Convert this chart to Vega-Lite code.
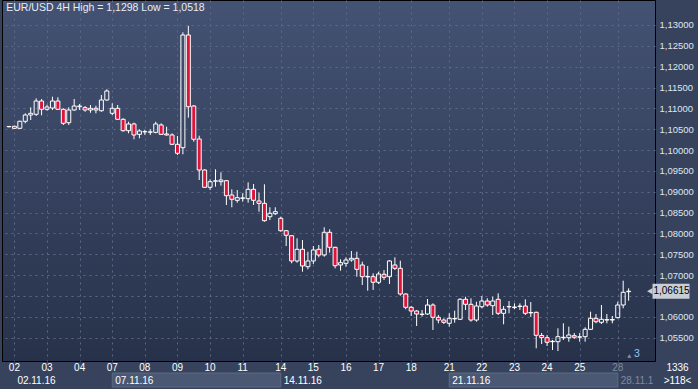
{
  "$schema": "https://vega.github.io/schema/vega-lite/v6.json",
  "width": 653,
  "height": 361,
  "autosize": "none",
  "padding": {"left": 2, "top": 0, "right": 43, "bottom": 28},
  "background": "#37435d",
  "config": {
    "view": {
      "fill": {"gradient": "linear", "x1": 0, "y1": 0, "x2": 0, "y2": 1, "stops": [{"offset": 0, "color": "#445273"}, {"offset": 1, "color": "#27324a"}]},
      "stroke": "#000000",
      "strokeWidth": 1
    },
    "text": {"font": "Liberation Sans"},
    "axis": {"labelFont": "Liberation Sans", "labelOverlap": false}
  },
  "datasets": {
    "candles": [
      {"i":0,"o":1.10561,"h":1.10578,"l":1.10542,"c":1.10566},
      {"i":1,"o":1.10570,"h":1.10585,"l":1.10506,"c":1.10522},
      {"i":2,"o":1.10522,"h":1.10705,"l":1.10506,"c":1.10690},
      {"i":3,"o":1.10690,"h":1.10882,"l":1.10642,"c":1.10841},
      {"i":4,"o":1.10841,"h":1.11026,"l":1.10721,"c":1.10882},
      {"i":5,"o":1.10858,"h":1.11242,"l":1.10817,"c":1.11177},
      {"i":6,"o":1.11177,"h":1.11225,"l":1.10834,"c":1.10978},
      {"i":7,"o":1.10978,"h":1.11088,"l":1.10944,"c":1.11033},
      {"i":8,"o":1.11009,"h":1.11280,"l":1.10961,"c":1.11177},
      {"i":9,"o":1.11177,"h":1.11266,"l":1.10961,"c":1.10978},
      {"i":10,"o":1.10978,"h":1.11002,"l":1.10602,"c":1.10642},
      {"i":11,"o":1.10657,"h":1.11026,"l":1.10602,"c":1.10961},
      {"i":12,"o":1.10961,"h":1.11225,"l":1.10944,"c":1.11057},
      {"i":13,"o":1.11040,"h":1.11105,"l":1.10961,"c":1.11057},
      {"i":14,"o":1.11016,"h":1.11057,"l":1.10920,"c":1.10961},
      {"i":15,"o":1.10961,"h":1.11081,"l":1.10896,"c":1.11002},
      {"i":16,"o":1.11002,"h":1.11064,"l":1.10882,"c":1.10961},
      {"i":17,"o":1.10944,"h":1.11321,"l":1.10920,"c":1.11201},
      {"i":18,"o":1.11201,"h":1.11458,"l":1.11184,"c":1.11417},
      {"i":19,"o":1.10882,"h":1.11122,"l":1.10841,"c":1.11002},
      {"i":20,"o":1.11002,"h":1.11081,"l":1.10721,"c":1.10738},
      {"i":21,"o":1.10738,"h":1.10762,"l":1.10441,"c":1.10465},
      {"i":22,"o":1.10465,"h":1.10681,"l":1.10402,"c":1.10626},
      {"i":23,"o":1.10626,"h":1.10657,"l":1.10259,"c":1.10362},
      {"i":24,"o":1.10378,"h":1.10498,"l":1.10283,"c":1.10458},
      {"i":25,"o":1.10438,"h":1.10482,"l":1.10362,"c":1.10443},
      {"i":26,"o":1.10429,"h":1.10498,"l":1.10362,"c":1.10436},
      {"i":27,"o":1.10426,"h":1.10681,"l":1.10402,"c":1.10626},
      {"i":28,"o":1.10602,"h":1.10642,"l":1.10362,"c":1.10378},
      {"i":29,"o":1.10386,"h":1.10561,"l":1.10350,"c":1.10362},
      {"i":30,"o":1.10362,"h":1.10402,"l":1.10122,"c":1.10139},
      {"i":31,"o":1.10139,"h":1.10338,"l":1.09882,"c":1.09923},
      {"i":32,"o":1.10057,"h":1.12825,"l":1.09899,"c":1.12760},
      {"i":33,"o":1.12760,"h":1.12980,"l":1.10777,"c":1.11040},
      {"i":34,"o":1.11057,"h":1.11081,"l":1.10201,"c":1.10259},
      {"i":35,"o":1.10266,"h":1.10345,"l":1.09282,"c":1.09522},
      {"i":36,"o":1.09522,"h":1.09540,"l":1.09090,"c":1.09107},
      {"i":37,"o":1.09107,"h":1.09299,"l":1.09042,"c":1.09242},
      {"i":38,"o":1.09254,"h":1.09539,"l":1.09122,"c":1.09261},
      {"i":39,"o":1.09242,"h":1.09467,"l":1.09146,"c":1.09282},
      {"i":40,"o":1.09266,"h":1.09282,"l":1.08683,"c":1.08906},
      {"i":41,"o":1.08923,"h":1.09059,"l":1.08628,"c":1.08819},
      {"i":42,"o":1.08795,"h":1.09042,"l":1.08738,"c":1.08858},
      {"i":43,"o":1.08843,"h":1.08963,"l":1.08762,"c":1.08853},
      {"i":44,"o":1.08834,"h":1.09227,"l":1.08738,"c":1.09059},
      {"i":45,"o":1.09059,"h":1.09186,"l":1.08683,"c":1.08795},
      {"i":46,"o":1.08779,"h":1.08978,"l":1.08522,"c":1.08723},
      {"i":47,"o":1.08723,"h":1.09179,"l":1.08282,"c":1.08306},
      {"i":48,"o":1.08402,"h":1.08628,"l":1.08323,"c":1.08484},
      {"i":49,"o":1.08474,"h":1.08628,"l":1.08443,"c":1.08522},
      {"i":50,"o":1.08364,"h":1.08402,"l":1.08042,"c":1.08066},
      {"i":51,"o":1.08066,"h":1.08083,"l":1.07699,"c":1.07956},
      {"i":52,"o":1.07946,"h":1.07963,"l":1.07284,"c":1.07340},
      {"i":53,"o":1.07340,"h":1.07884,"l":1.07299,"c":1.07620},
      {"i":54,"o":1.07620,"h":1.07843,"l":1.07083,"c":1.07220},
      {"i":55,"o":1.07203,"h":1.07563,"l":1.07140,"c":1.07340},
      {"i":56,"o":1.07340,"h":1.07699,"l":1.07268,"c":1.07603},
      {"i":57,"o":1.07620,"h":1.07723,"l":1.07428,"c":1.07483},
      {"i":58,"o":1.07483,"h":1.08148,"l":1.07443,"c":1.08028},
      {"i":59,"o":1.08028,"h":1.08100,"l":1.07539,"c":1.07668},
      {"i":60,"o":1.07668,"h":1.07680,"l":1.07164,"c":1.07227},
      {"i":61,"o":1.07244,"h":1.07380,"l":1.07107,"c":1.07299},
      {"i":62,"o":1.07284,"h":1.07428,"l":1.07203,"c":1.07364},
      {"i":63,"o":1.07364,"h":1.07579,"l":1.07323,"c":1.07404},
      {"i":64,"o":1.07404,"h":1.07563,"l":1.06963,"c":1.07140},
      {"i":65,"o":1.07244,"h":1.07323,"l":1.06764,"c":1.06963},
      {"i":66,"o":1.06958,"h":1.07220,"l":1.06627,"c":1.06968},
      {"i":67,"o":1.06963,"h":1.07045,"l":1.06644,"c":1.06829},
      {"i":68,"o":1.06829,"h":1.07083,"l":1.06788,"c":1.07028},
      {"i":69,"o":1.07021,"h":1.07124,"l":1.06884,"c":1.06949},
      {"i":70,"o":1.06963,"h":1.07364,"l":1.06788,"c":1.07340},
      {"i":71,"o":1.07244,"h":1.07428,"l":1.07124,"c":1.07164},
      {"i":72,"o":1.07164,"h":1.07347,"l":1.06507,"c":1.06548},
      {"i":73,"o":1.06548,"h":1.06565,"l":1.06181,"c":1.06229},
      {"i":74,"o":1.06229,"h":1.06260,"l":1.06020,"c":1.06140},
      {"i":75,"o":1.06140,"h":1.06164,"l":1.05780,"c":1.06068},
      {"i":76,"o":1.06056,"h":1.06164,"l":1.06004,"c":1.06066},
      {"i":77,"o":1.06068,"h":1.06428,"l":1.06044,"c":1.06284},
      {"i":78,"o":1.06284,"h":1.06325,"l":1.05685,"c":1.05989},
      {"i":79,"o":1.05989,"h":1.06044,"l":1.05845,"c":1.05924},
      {"i":80,"o":1.05924,"h":1.05965,"l":1.05829,"c":1.05869},
      {"i":81,"o":1.05845,"h":1.06085,"l":1.05764,"c":1.05965},
      {"i":82,"o":1.05951,"h":1.06148,"l":1.05860,"c":1.05960},
      {"i":83,"o":1.05941,"h":1.06445,"l":1.05924,"c":1.06421},
      {"i":84,"o":1.06421,"h":1.06483,"l":1.06164,"c":1.06301},
      {"i":85,"o":1.06301,"h":1.06445,"l":1.05884,"c":1.05924},
      {"i":86,"o":1.05924,"h":1.06363,"l":1.05884,"c":1.06260},
      {"i":87,"o":1.06243,"h":1.06500,"l":1.06205,"c":1.06380},
      {"i":88,"o":1.06380,"h":1.06445,"l":1.06243,"c":1.06284},
      {"i":89,"o":1.06267,"h":1.06483,"l":1.06044,"c":1.06380},
      {"i":90,"o":1.06421,"h":1.06565,"l":1.06044,"c":1.06085},
      {"i":91,"o":1.06085,"h":1.06260,"l":1.05821,"c":1.06181},
      {"i":92,"o":1.06239,"h":1.06380,"l":1.06085,"c":1.06248},
      {"i":93,"o":1.06222,"h":1.06325,"l":1.06181,"c":1.06236},
      {"i":94,"o":1.06248,"h":1.06325,"l":1.06164,"c":1.06258},
      {"i":95,"o":1.06260,"h":1.06421,"l":1.06044,"c":1.06085},
      {"i":96,"o":1.06095,"h":1.06356,"l":1.05996,"c":1.06104},
      {"i":97,"o":1.06109,"h":1.06124,"l":1.05246,"c":1.05557},
      {"i":98,"o":1.05553,"h":1.05613,"l":1.05349,"c":1.05505},
      {"i":99,"o":1.05500,"h":1.05565,"l":1.05301,"c":1.05390},
      {"i":100,"o":1.05404,"h":1.05445,"l":1.05205,"c":1.05414},
      {"i":101,"o":1.05404,"h":1.05725,"l":1.05180,"c":1.05524},
      {"i":102,"o":1.05500,"h":1.05845,"l":1.05445,"c":1.05510},
      {"i":103,"o":1.05500,"h":1.05764,"l":1.05404,"c":1.05565},
      {"i":104,"o":1.05548,"h":1.05613,"l":1.05469,"c":1.05510},
      {"i":105,"o":1.05512,"h":1.05613,"l":1.05404,"c":1.05522},
      {"i":106,"o":1.05524,"h":1.05749,"l":1.05404,"c":1.05701},
      {"i":107,"o":1.05701,"h":1.06124,"l":1.05685,"c":1.05965},
      {"i":108,"o":1.05965,"h":1.06068,"l":1.05845,"c":1.05884},
      {"i":109,"o":1.05869,"h":1.06284,"l":1.05829,"c":1.05941},
      {"i":110,"o":1.05924,"h":1.06068,"l":1.05845,"c":1.05934},
      {"i":111,"o":1.05924,"h":1.06020,"l":1.05845,"c":1.05936},
      {"i":112,"o":1.05980,"h":1.06363,"l":1.05965,"c":1.06284},
      {"i":113,"o":1.06284,"h":1.06867,"l":1.06205,"c":1.06589},
      {"i":114,"o":1.06603,"h":1.06685,"l":1.06387,"c":1.06615}
    ],
    "days": [
      {"day": "02", "i": 1}, {"day": "03", "i": 7}, {"day": "04", "i": 13},
      {"day": "07", "i": 19}, {"day": "08", "i": 25}, {"day": "09", "i": 31},
      {"day": "10", "i": 37}, {"day": "11", "i": 43}, {"day": "14", "i": 50},
      {"day": "15", "i": 56}, {"day": "16", "i": 62}, {"day": "17", "i": 68},
      {"day": "18", "i": 74}, {"day": "21", "i": 81}, {"day": "22", "i": 87},
      {"day": "23", "i": 93}, {"day": "24", "i": 99}, {"day": "25", "i": 105},
      {"day": "28", "i": 112}
    ],
    "weeks": [
      {"week": "02.11.16", "start": 1, "end": 19},
      {"week": "07.11.16", "start": 19, "end": 50},
      {"week": "14.11.16", "start": 50, "end": 81},
      {"week": "21.11.16", "start": 81, "end": 112},
      {"week": "28.11.1", "start": 112, "end": 117.9}
    ]
  },
  "data": {"name": "candles"},
  "layer": [
    {
      "data": {"name": "weeks"},
      "transform": [{"filter": "datum.week === '07.11.16' || datum.week === '21.11.16'"}],
      "mark": {"type": "rect", "fill": "#4b5873", "stroke": "#5d6a85", "strokeWidth": 1, "clip": false},
      "encoding": {
        "x": {
          "field": "start", "type": "quantitative",
          "scale": {"domain": [-0.362, 117.935], "nice": false, "zero": false},
          "axis": {
            "values": [1, 7, 13, 19, 25, 31, 37, 43, 50, 56, 62, 68, 74, 81, 87, 93, 99, 105, 112],
            "tickCount": 100,
            "labels": false,
            "grid": true, "gridColor": "#5d6987", "gridDash": [2, 4],
            "ticks": false, "domain": false, "title": null
          }
        },
        "x2": {"field": "end"},
        "y": {
          "datum": 1.04653, "type": "quantitative",
          "scale": {"domain": [1.04941, 1.135996], "nice": false, "zero": false},
          "axis": {
            "orient": "right",
            "values": [1.055, 1.06, 1.065, 1.07, 1.075, 1.08, 1.085, 1.09, 1.095, 1.1, 1.105, 1.11, 1.115, 1.12, 1.125, 1.13],
            "tickCount": 100,
            "labelExpr": "datum.value === 1.065 ? '' : replace(format(datum.value, '.5f'), '.', ',')",
            "grid": true, "gridColor": "#5d6987", "gridDash": [2, 4],
            "ticks": false, "domain": false, "title": null,
            "labelColor": "#dfe6f2", "labelFontSize": 9.5, "labelPadding": 4,
            "labelFlush": false, "labelOverlap": false, "labelBaseline": "middle"
          }
        },
        "y2": {"datum": 1.04317}
      }
    },
    {
      "mark": {"type": "rule", "color": "#ffffff", "strokeWidth": 1},
      "encoding": {
        "x": {"field": "i", "type": "quantitative"},
        "y": {"field": "h", "type": "quantitative"},
        "y2": {"field": "c"}
      }
    },
    {
      "mark": {"type": "rule", "color": "#ffffff", "strokeWidth": 1},
      "encoding": {
        "x": {"field": "i", "type": "quantitative"},
        "y": {"field": "l", "type": "quantitative"},
        "y2": {"field": "o"}
      }
    },
    {
      "mark": {"type": "bar", "width": 4, "stroke": "#ffffff", "strokeWidth": 1},
      "encoding": {
        "x": {"field": "i", "type": "quantitative"},
        "y": {"field": "o", "type": "quantitative"},
        "y2": {"field": "c"},
        "fill": {"condition": {"test": "datum.c < datum.o", "value": "#dc143c"}, "value": "transparent"}
      }
    },
    {
      "data": {"values": [{"label": "EUR/USD 4H High = 1,1298 Low = 1,0518"}]},
      "mark": {"type": "text", "align": "left", "baseline": "middle", "fontSize": 10.5, "color": "#e8edf5"},
      "encoding": {
        "x": {"datum": -0.5, "type": "quantitative"},
        "y": {"datum": 1.13408, "type": "quantitative"},
        "text": {"field": "label"}
      }
    },
    {
      "data": {"name": "days"},
      "mark": {"type": "text", "align": "center", "baseline": "middle", "fontSize": 10, "clip": false},
      "encoding": {
        "x": {"field": "i", "type": "quantitative"},
        "y": {"datum": 1.04773, "type": "quantitative"},
        "text": {"field": "day"},
        "color": {"condition": {"test": "datum.day === '28'", "value": "#7f899e"}, "value": "#ffffff"}
      }
    },
    {
      "data": {"name": "weeks"},
      "mark": {"type": "text", "align": "left", "baseline": "middle", "fontSize": 10, "dx": 3, "clip": false},
      "encoding": {
        "x": {"field": "start", "type": "quantitative"},
        "y": {"datum": 1.04461, "type": "quantitative"},
        "text": {"field": "week"},
        "color": {"condition": {"test": "datum.week === '28.11.1'", "value": "#7f899e"}, "value": "#ffffff"}
      }
    },
    {
      "data": {"values": [{"price": 1.06615, "label": "1,06615"}]},
      "layer": [
        {
          "mark": {"type": "rule", "color": "#c9ced6", "strokeWidth": 15, "clip": false},
          "encoding": {
            "x": {"datum": 118.4, "type": "quantitative"},
            "x2": {"datum": 125.2},
            "y": {"field": "price", "type": "quantitative"}
          }
        },
        {
          "mark": {"type": "point", "shape": "triangle-left", "filled": true, "color": "#c9ced6", "size": 40, "opacity": 1, "clip": false},
          "encoding": {
            "x": {"datum": 117.9, "type": "quantitative"},
            "y": {"field": "price", "type": "quantitative"}
          }
        },
        {
          "mark": {"type": "text", "align": "center", "baseline": "middle", "fontSize": 10, "color": "#000000", "clip": false},
          "encoding": {
            "x": {"datum": 121.9, "type": "quantitative"},
            "y": {"field": "price", "type": "quantitative"},
            "text": {"field": "label"}
          }
        }
      ]
    },
    {
      "data": {"values": [{"label": "3"}]},
      "layer": [
        {
          "mark": {"type": "point", "shape": "triangle-up", "filled": true, "color": "#8a93a5", "size": 18, "opacity": 1},
          "encoding": {
            "x": {"datum": 114.13, "type": "quantitative"},
            "y": {"datum": 1.05061, "type": "quantitative"}
          }
        },
        {
          "mark": {"type": "text", "align": "center", "baseline": "middle", "fontSize": 10.5, "color": "#8fc8f2"},
          "encoding": {
            "x": {"datum": 115.52, "type": "quantitative"},
            "y": {"datum": 1.05109, "type": "quantitative"},
            "text": {"field": "label"}
          }
        }
      ]
    },
    {
      "data": {"values": [{"label": "1336", "price": 1.04773}, {"label": ">118<", "price": 1.04461}]},
      "mark": {"type": "text", "align": "center", "baseline": "middle", "fontSize": 10, "color": "#ffffff", "clip": false},
      "encoding": {
        "x": {"datum": 123.0, "type": "quantitative"},
        "y": {"field": "price", "type": "quantitative"},
        "text": {"field": "label"}
      }
    }
  ]
}
